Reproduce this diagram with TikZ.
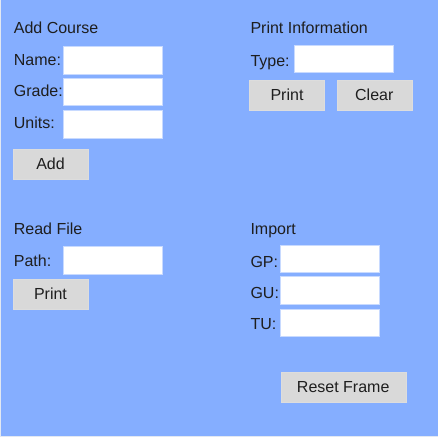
\documentclass[tikz,border=0pt]{standalone}
\usepackage{fontspec}
\setmainfont{Liberation Sans}
\definecolor{bgblue}{RGB}{133,174,255}
\definecolor{btngray}{RGB}{217,217,217}
\definecolor{txtdark}{RGB}{30,30,30}
\definecolor{edgelight}{RGB}{226,232,242}
\definecolor{boxedge}{RGB}{200,218,255}
\tikzset{
  lbl/.style={inner sep=0pt, anchor=base west, text=txtdark, font=\fontsize{16}{19}\selectfont},
  field/.style={draw=boxedge, line width=0.6pt, fill=white, minimum width=99pt, minimum height=27.4pt, inner sep=0pt},
  btn/.style={draw=btngray!90!white, line width=0.4pt, fill=btngray, minimum width=75pt, minimum height=30pt, inner sep=0pt, text=txtdark, font=\fontsize{16}{19}\selectfont, text height=11.5pt, text depth=0pt},
}
\begin{document}
\begin{tikzpicture}[x=1pt,y=-1pt]
\useasboundingbox (0,0) rectangle (438,437);
\fill[edgelight] (0,0) rectangle (438,437);
\fill[bgblue] (1,0) rectangle (438,435.5);
% Add Course
\node[lbl] (addt) at (13.7,33.3) {Add Course};
\node[lbl] (namel) at (13.7,65.5) {Name:};
\node[field] (namef) at (112.6,60.3) {};
\node[lbl] (gradel) at (13.7,96.7) {Grade:};
\node[field] (gradef) at (112.6,91.7) {};
\node[lbl] (unitsl) at (13.7,128.7) {Units:};
\node[field] (unitsf) at (112.6,124.2) {};
\node[btn] (addb) at (50.5,164) {Add};
% Print Information
\node[lbl] (pit) at (250.3,33.3) {Print Information};
\node[lbl] (typel) at (250.3,66) {Type:};
\node[field] (typef) at (343.8,59) {};
\node[btn] (printb) at (287,95) {Print};
\node[btn] (clearb) at (374.3,95) {Clear};
% Read File
\node[lbl] (rft) at (13.7,234.4) {Read File};
\node[lbl] (pathl) at (13.7,266.7) {Path:};
\node[field] (pathf) at (112.6,260.3) {};
\node[btn] (print2b) at (50.5,294.2) {Print};
% Import
\node[lbl] (impt) at (250.3,234.6) {Import};
\node[lbl] (gpl) at (250.3,267.3) {GP:};
\node[field] (gpf) at (330.2,259) {};
\node[lbl] (gul) at (250.3,298.7) {GU:};
\node[field] (guf) at (330.2,290.4) {};
\node[lbl] (tul) at (250.3,329.7) {TU:};
\node[field] (tuf) at (330.2,323) {};
\node[btn, minimum width=125pt] (resetb) at (343.2,386.7) {Reset Frame};
\end{tikzpicture}
\end{document}
